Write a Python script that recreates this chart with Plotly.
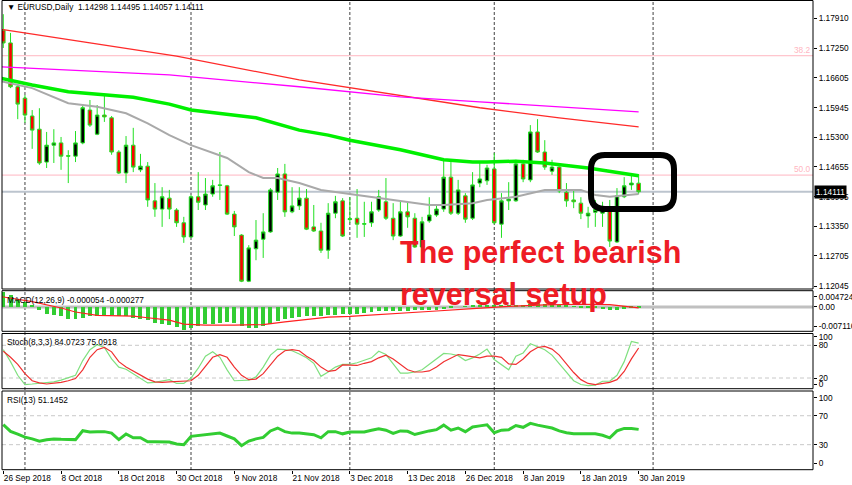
import plotly.graph_objects as go
import pandas as pd

# ---------------- data ----------------
holidays = ["2018-12-25", "2019-01-01"]
dates = [d for d in pd.bdate_range("2018-09-26", "2019-01-30") if d.strftime("%Y-%m-%d") not in holidays]
future_dates = list(pd.bdate_range("2019-01-31", "2019-02-08"))

opens = [1.1765, 1.1737, 1.1641, 1.1616, 1.1577, 1.1548, 1.1476, 1.1513, 1.1518, 1.1490,
         1.1489, 1.1518, 1.1590, 1.1537, 1.1579, 1.1573, 1.1498, 1.1452, 1.1513, 1.1459,
         1.1467, 1.1391, 1.1373, 1.1397, 1.1371, 1.1343, 1.1312, 1.1400, 1.1382, 1.1406,
         1.1426, 1.1424, 1.1362, 1.1316, 1.1215, 1.1286, 1.1307, 1.1323, 1.1410, 1.1450,
         1.1367, 1.1380, 1.1397, 1.1334, 1.1325, 1.1283, 1.1364, 1.1391, 1.1350, 1.1353,
         1.1340, 1.1343, 1.1371, 1.1389, 1.1353, 1.1314, 1.1367, 1.1353, 1.1290, 1.1347,
         1.1360, 1.1373, 1.1443, 1.1364, 1.1402, 1.1353, 1.1430, 1.1435, 1.1461, 1.1340,
         1.1391, 1.1391, 1.1472, 1.1437, 1.1542, 1.1498, 1.1456, 1.1465, 1.1410, 1.1393,
         1.1386, 1.1358, 1.1366, 1.1364, 1.1378, 1.1301, 1.1400, 1.1426, 1.14298]
highs = [1.1800, 1.1759, 1.1645, 1.1623, 1.1590, 1.1594, 1.1542, 1.1548, 1.1531, 1.1502,
         1.1544, 1.1603, 1.1612, 1.1601, 1.1621, 1.1577, 1.1502, 1.1533, 1.1551, 1.1494,
         1.1476, 1.1430, 1.1421, 1.1415, 1.1375, 1.1356, 1.1404, 1.1454, 1.1441, 1.1437,
         1.1498, 1.1426, 1.1369, 1.1318, 1.1294, 1.1349, 1.1364, 1.1419, 1.1463, 1.1472,
         1.1421, 1.1421, 1.1417, 1.1382, 1.1343, 1.1386, 1.1402, 1.1397, 1.1399, 1.1417,
         1.1389, 1.1389, 1.1415, 1.1441, 1.1386, 1.1389, 1.1389, 1.1364, 1.1356, 1.1399,
         1.1382, 1.1481, 1.1476, 1.1437, 1.1408, 1.1454, 1.1474, 1.1470, 1.1496, 1.1408,
         1.1432, 1.1481, 1.1481, 1.1557, 1.1570, 1.1524, 1.1481, 1.1467, 1.1430, 1.1413,
         1.1399, 1.1378, 1.1393, 1.1389, 1.1393, 1.1419, 1.1443, 1.1446, 1.14495]
lows = [1.1726, 1.1638, 1.1570, 1.1562, 1.1505, 1.1470, 1.1463, 1.1474, 1.1459, 1.1430,
        1.1476, 1.1515, 1.1553, 1.1535, 1.1564, 1.1492, 1.1450, 1.1430, 1.1454, 1.1454,
        1.1378, 1.1356, 1.1334, 1.1351, 1.1334, 1.1299, 1.1310, 1.1371, 1.1371, 1.1400,
        1.1393, 1.1360, 1.1314, 1.1213, 1.1213, 1.1261, 1.1266, 1.1321, 1.1393, 1.1356,
        1.1364, 1.1371, 1.1327, 1.1323, 1.1277, 1.1264, 1.1353, 1.1312, 1.1343, 1.1310,
        1.1312, 1.1334, 1.1367, 1.1349, 1.1305, 1.1312, 1.1332, 1.1288, 1.1288, 1.1343,
        1.1356, 1.1367, 1.1360, 1.1360, 1.1343, 1.1349, 1.1421, 1.1426, 1.1340, 1.1310,
        1.1371, 1.1389, 1.1432, 1.1432, 1.1496, 1.1459, 1.1448, 1.1408, 1.1378, 1.1375,
        1.1351, 1.1332, 1.1334, 1.1334, 1.1290, 1.1299, 1.1397, 1.1415, 1.14057]
closes = [1.1737, 1.1641, 1.1603, 1.1579, 1.1546, 1.1474, 1.1513, 1.1518, 1.1489, 1.1489,
          1.1518, 1.1595, 1.1557, 1.1579, 1.1575, 1.1498, 1.1452, 1.1513, 1.1465, 1.1467,
          1.1393, 1.1373, 1.1400, 1.1373, 1.1343, 1.1312, 1.1400, 1.1388, 1.1406, 1.1424,
          1.1425, 1.1362, 1.1334, 1.1215, 1.1288, 1.1305, 1.1323, 1.1415, 1.1450, 1.1367,
          1.1380, 1.1397, 1.1329, 1.1325, 1.1283, 1.1364, 1.1389, 1.1314, 1.1352, 1.1340,
          1.1341, 1.1367, 1.1400, 1.1353, 1.1314, 1.1367, 1.1356, 1.1290, 1.1345, 1.1360,
          1.1373, 1.1443, 1.1364, 1.1415, 1.1351, 1.1426, 1.1439, 1.1463, 1.1343, 1.1391,
          1.1395, 1.1472, 1.1439, 1.1542, 1.1498, 1.1465, 1.1465, 1.1413, 1.1391, 1.1389,
          1.1364, 1.1364, 1.1372, 1.1378, 1.1303, 1.1402, 1.1424, 1.1430, 1.14111]

# moving averages (bar index, value)
ma_red_idx = [-1, 0, 12, 24, 41, 55, 66, 77, 88]
ma_red = [1.1768, 1.1766, 1.1737, 1.1708, 1.1656, 1.1621, 1.1595, 1.1573, 1.1553]
ma_mag_idx = [-1, 12, 23, 41, 55, 66, 77, 88]
ma_mag = [1.1685, 1.1676, 1.1667, 1.1641, 1.1619, 1.1608, 1.1597, 1.1586]
ma_green_idx = [-1, 4, 9, 13, 18, 23, 26, 35, 41, 45, 48, 55, 61, 65, 67, 71, 75, 81, 88]
ma_green = [1.1662, 1.1645, 1.1630, 1.1625, 1.1618, 1.1603, 1.1590, 1.1573, 1.1546, 1.1535,
            1.1524, 1.1503, 1.1481, 1.1476, 1.1476, 1.1478, 1.1474, 1.1463, 1.1446]
ma_gray_idx = [-1, 0, 4, 9, 13, 17, 20, 23, 26, 31, 34, 36, 38, 41, 44, 48, 51, 55, 59, 61,
               65, 67, 71, 75, 80, 82, 84, 88]
ma_gray = [1.1654, 1.1652, 1.1638, 1.1605, 1.1597, 1.1583, 1.1561, 1.1535, 1.1513, 1.1485,
           1.1454, 1.1441, 1.1441, 1.1430, 1.1415, 1.1406, 1.1400, 1.1391, 1.1382, 1.1382,
           1.1386, 1.1393, 1.1400, 1.1415, 1.1415, 1.1404, 1.1400, 1.1406]

fib_levels = {"38.2": 1.17090, "50.0": 1.14475}
price_ticks = [1.17910, 1.17250, 1.16605, 1.15945, 1.15300, 1.14655, 1.13995, 1.13350, 1.12705, 1.12045]

macd_hist = [0.0044, 0.0035, 0.0025, 0.0015, 0.0005, -0.0010, -0.0020, -0.0025, -0.0028, -0.0035,
             -0.0035, -0.0032, -0.0028, -0.0028, -0.0025, -0.0025, -0.0028, -0.0028, -0.0032, -0.0035,
             -0.0039, -0.0047, -0.0049, -0.0054, -0.0059, -0.0067, -0.0061, -0.0057, -0.0051, -0.0049,
             -0.0047, -0.0044, -0.0047, -0.0057, -0.0061, -0.0061, -0.0057, -0.0049, -0.0041, -0.0037,
             -0.0033, -0.0030, -0.0028, -0.0026, -0.0026, -0.0025, -0.0025, -0.0022, -0.0020, -0.0020,
             -0.0018, -0.0015, -0.0012, -0.0012, -0.0012, -0.0012, -0.0012, -0.0010, -0.0010, -0.0010,
             -0.0008, -0.0006, -0.0003, 0.0000, 0.0001, 0.0003, 0.0004, 0.0006, 0.0005, 0.0004,
             0.0004, 0.0006, 0.0007, 0.0010, 0.0011, 0.0010, 0.0009, 0.0006, 0.0004, 0.0001,
             -0.0001, -0.0003, -0.0004, -0.0006, -0.0010, -0.0009, -0.0005, -0.0002, -0.000054]
macd_sig_idx = [-1, 0, 4, 8, 10, 13, 18, 20, 23, 25, 28, 32, 36, 39, 41, 43, 45, 48, 52, 57,
                60, 65, 70, 75, 80, 84, 86, 88]
macd_sig = [0.0033, 0.0030, 0.0016, -0.0003, -0.0015, -0.0025, -0.0027, -0.0032, -0.0039, -0.0051,
            -0.0054, -0.0054, -0.0052, -0.0044, -0.0039, -0.0035, -0.0030, -0.0028, -0.0022, -0.0015,
            -0.0012, -0.0005, 0.0002, 0.0006, 0.0008, 0.0007, 0.0003, -0.000277]

stoch_k = [72, 50, 25, 8, 9, 10, 11, 13, 16, 20,
           25, 52, 72, 81, 76, 55, 40, 36, 28, 20,
           11, 12, 15, 17, 10, 10, 20, 38, 60, 68,
           58, 35, 15, 15, 16, 22, 40, 62, 73, 72,
           70, 64, 57, 47, 23, 31, 40, 45, 45, 48,
           52, 57, 69, 63, 46, 29, 29, 31, 35, 45,
           55, 65, 64, 61, 52, 57, 64, 73, 54, 44,
           35, 60, 66, 83, 78, 72, 62, 47, 30, 15,
           8, 6, 7, 14, 14, 25, 50, 87, 84.0723]
stoch_d = [69, 58, 45, 28, 15, 11, 9, 10, 12, 15,
           19, 35, 58, 72, 76, 68, 50, 40, 33, 25,
           18, 13, 12, 13, 14, 14, 15, 25, 42, 58,
           63, 58, 40, 25, 17, 18, 28, 44, 60, 70,
           72, 70, 60, 52, 40, 32, 34, 44, 44, 43,
           47, 50, 57, 62, 55, 45, 35, 31, 31, 33,
           40, 50, 57, 63, 61, 59, 57, 60, 60, 58,
           46, 45, 55, 68, 76, 78, 73, 62, 46, 30,
           17, 10, 8, 10, 12, 17, 32, 55, 75.0918]
rsi = [57.6, 48.4, 44.5, 40.5, 38, 34.8, 36.9, 38, 37.5, 36.9,
       37, 49.3, 47.5, 48, 48, 46, 37, 44.7, 39.5, 39.5,
       34, 34, 34, 33.7, 31, 30, 41.5, 42.4, 43.5, 45.2,
       46, 42, 38, 28.6, 35, 38, 40, 49, 53, 48,
       46, 46, 44.7, 43.8, 39.5, 48, 48, 45, 47.5, 47.5,
       47.5, 50, 52, 50, 45.5, 49, 48.5, 44, 47, 49,
       50.7, 57, 50, 53, 48, 54.5, 56, 57.5, 46.5, 50,
       50.7, 56.5, 54, 59.5, 57, 55, 53, 49, 46.5, 45.2,
       45.2, 45.2, 45.2, 43, 39.5, 49, 52.5, 52.5, 51.1452]

# ---------------- layout helpers ----------------
W, H = 852, 485
ML, MR, MT, MB = 2, 39, 0, 15
PW, PH = W - ML - MR, H - MT - MB


def px_x(px):
    return (px - ML) / PW


def px_y(py):
    return (PH - py) / PH


FONT = "Liberation Sans, Arial, DejaVu Sans, sans-serif"
FS = 8.3
GREEN_WICK = "#22E022"

xs = list(range(len(dates)))
all_dates = dates + future_dates

fig = go.Figure()

fig.add_trace(go.Candlestick(
    x=xs, open=opens, high=highs, low=lows, close=closes,
    increasing=dict(line=dict(color=GREEN_WICK, width=1), fillcolor="#000000"),
    decreasing=dict(line=dict(color=GREEN_WICK, width=1), fillcolor="#FF0000"),
    whiskerwidth=0, xaxis="x", yaxis="y", showlegend=False, hoverinfo="skip"))

fig.add_trace(go.Scatter(x=ma_red_idx, y=ma_red, mode="lines", line=dict(color="#FF2A2A", width=1.3),
                         xaxis="x", yaxis="y", showlegend=False, hoverinfo="skip"))
fig.add_trace(go.Scatter(x=ma_mag_idx, y=ma_mag, mode="lines", line=dict(color="#FF00FF", width=1.3),
                         xaxis="x", yaxis="y", showlegend=False, hoverinfo="skip"))
fig.add_trace(go.Scatter(x=ma_gray_idx, y=ma_gray, mode="lines", line=dict(color="#A9A9A9", width=2),
                         xaxis="x", yaxis="y", showlegend=False, hoverinfo="skip"))
fig.add_trace(go.Scatter(x=ma_green_idx, y=ma_green, mode="lines", line=dict(color="#00F000", width=3.5),
                         xaxis="x", yaxis="y", showlegend=False, hoverinfo="skip"))

# MACD
fig.add_trace(go.Bar(x=xs, y=macd_hist, width=0.55, marker=dict(color="#32CD32", line=dict(width=0)),
                     xaxis="x2", yaxis="y2", showlegend=False, hoverinfo="skip"))
fig.add_trace(go.Scatter(x=macd_sig_idx, y=macd_sig, mode="lines", line=dict(color="#FF2020", width=1.2),
                         xaxis="x2", yaxis="y2", showlegend=False, hoverinfo="skip"))

# Stochastic
fig.add_trace(go.Scatter(x=xs, y=stoch_k, mode="lines", line=dict(color="#7FE07F", width=1.2),
                         xaxis="x3", yaxis="y3", showlegend=False, hoverinfo="skip"))
fig.add_trace(go.Scatter(x=xs, y=stoch_d, mode="lines", line=dict(color="#F03030", width=1.2),
                         xaxis="x3", yaxis="y3", showlegend=False, hoverinfo="skip"))

# RSI
fig.add_trace(go.Scatter(x=xs, y=rsi, mode="lines", line=dict(color="#32CD32", width=3),
                         xaxis="x4", yaxis="y4", showlegend=False, hoverinfo="skip"))

# ---------------- axes ----------------
x_range = [-0.18, 112.15]
tick_idx = list(range(0, len(dates), 8))
tick_txt = [f"{dates[i].day} {dates[i].strftime('%b %Y')}" for i in tick_idx]

common_x = dict(range=x_range, showgrid=False, zeroline=False, showline=False, fixedrange=True,
                automargin=False)
fig.update_layout(
    xaxis=dict(**common_x, anchor="y", showticklabels=False, ticks="", rangeslider=dict(visible=False)),
    xaxis2=dict(**common_x, anchor="y2", matches="x", showticklabels=False, ticks=""),
    xaxis3=dict(**common_x, anchor="y3", matches="x", showticklabels=False, ticks=""),
    xaxis4=dict(**common_x, anchor="free", position=0, matches="x", tickvals=tick_idx, ticktext=tick_txt,
                ticks="outside", ticklen=3, tickcolor="#000", ticklabelposition="outside right",
                tickangle=0, tickfont=dict(family=FONT, size=FS, color="#000")),
)

common_y = dict(side="right", showgrid=False, zeroline=False, showline=False, ticks="outside",
                ticklen=3, tickcolor="#000", tickfont=dict(family=FONT, size=FS, color="#000"),
                fixedrange=True, automargin=False)
fig.update_layout(
    yaxis=dict(**common_y, anchor="x", domain=[px_y(289), 1.0], range=[1.119792, 1.183109],
               tickvals=price_ticks, ticktext=[f"{v:.5f}" for v in price_ticks]),
    yaxis2=dict(**common_y, anchor="x2", domain=[px_y(331), px_y(291)], range=[-0.007116, 0.004724],
                tickvals=[0.003037, 0.0, -0.005636], ticktext=["0.004724", "0.00", "-0.007116"]),
    yaxis3=dict(**common_y, anchor="x3", domain=[px_y(388.9), px_y(334.4)], range=[0, 100],
                tickvals=[95.8, 80, 20, 9], ticktext=["100", "80", "20", "0"]),
    yaxis4=dict(**common_y, anchor="x4", domain=[px_y(466.4), px_y(394)], range=[0, 100],
                tickvals=[95, 70, 30, 4], ticktext=["100", "70", "30", "0"]),
)

# ---------------- shapes ----------------
shapes = []
# month separators
for i in range(1, len(all_dates)):
    if all_dates[i].month != all_dates[i - 1].month:
        shapes.append(dict(type="line", xref="x", yref="paper", x0=i, x1=i, y0=0, y1=1,
                           line=dict(color="#404040", width=1, dash="3px,2px"), layer="below"))
# fib levels
for lbl, lv in fib_levels.items():
    shapes.append(dict(type="line", xref="paper", yref="y", x0=0, x1=1, y0=lv, y1=lv,
                       line=dict(color="#FFB6C1", width=1), layer="below"))
# bid line
shapes.append(dict(type="line", xref="paper", yref="y", x0=0, x1=1, y0=closes[-1], y1=closes[-1],
                   line=dict(color="#BCC4CE", width=2), layer="below"))
# MACD zero line
shapes.append(dict(type="line", xref="paper", yref="y2", x0=0, x1=1, y0=0, y1=0,
                   line=dict(color="#C0C0C0", width=3), layer="below"))
# dashed levels
for yref, lv in [("y3", 80), ("y3", 20), ("y4", 70), ("y4", 30)]:
    shapes.append(dict(type="line", xref="paper", yref=yref, x0=0, x1=1, y0=lv, y1=lv,
                       line=dict(color="#C8C8C8", width=1, dash="4px,3px"), layer="below"))
# panel borders
for top, bot in [(0.5, 289), (290.7, 331.3), (333.5, 388.7), (391, 469.7)]:
    shapes.append(dict(type="rect", xref="paper", yref="paper", x0=px_x(2), x1=px_x(813),
                       y0=px_y(bot), y1=px_y(top), line=dict(color="#000", width=1),
                       fillcolor="rgba(0,0,0,0)", layer="above"))


# rounded highlight box
def rounded_path(x0, y0, x1, y1, r):
    pts = lambda x, y: f"{px_x(x):.5f},{px_y(y):.5f}"
    return (f"M {pts(x0 + r, y0)} L {pts(x1 - r, y0)} Q {pts(x1, y0)} {pts(x1, y0 + r)} "
            f"L {pts(x1, y1 - r)} Q {pts(x1, y1)} {pts(x1 - r, y1)} L {pts(x0 + r, y1)} "
            f"Q {pts(x0, y1)} {pts(x0, y1 - r)} L {pts(x0, y0 + r)} Q {pts(x0, y0)} {pts(x0 + r, y0)} Z")


shapes.append(dict(type="path", xref="paper", yref="paper", path=rounded_path(591, 155, 674, 209, 14),
                   line=dict(color="#000", width=6), fillcolor="rgba(0,0,0,0)", layer="above"))

# ---------------- annotations ----------------
ann = []
hdr = f"▼ EURUSD,Daily  {opens[-1]:.5f} {highs[-1]:.5f} {lows[-1]:.5f} {closes[-1]:.5f}"
ann.append(dict(text=hdr, xref="paper", yref="paper", x=px_x(5), y=px_y(7.5), xanchor="left", yanchor="middle",
                showarrow=False, font=dict(family=FONT, size=FS, color="#000")))
ann.append(dict(text=f"MACD(12,26,9) {macd_hist[-1]:.6f} {macd_sig[-1]:.6f}", xref="paper", yref="paper",
                x=px_x(5), y=px_y(300), xanchor="left", yanchor="middle", showarrow=False,
                font=dict(family=FONT, size=FS, color="#000")))
ann.append(dict(text=f"Stoch(8,3,3) {stoch_k[-1]:.4f} {stoch_d[-1]:.4f}", xref="paper", yref="paper",
                x=px_x(5), y=px_y(342), xanchor="left", yanchor="middle", showarrow=False,
                font=dict(family=FONT, size=FS, color="#000")))
ann.append(dict(text=f"RSI(13) {rsi[-1]:.4f}", xref="paper", yref="paper",
                x=px_x(5), y=px_y(399.5), xanchor="left", yanchor="middle", showarrow=False,
                font=dict(family=FONT, size=FS, color="#000")))
for lbl, lv in fib_levels.items():
    ann.append(dict(text=lbl, xref="paper", yref="y", x=px_x(812), y=lv, xanchor="right", yanchor="bottom",
                    showarrow=False, font=dict(family=FONT, size=FS, color="#FFB6C1"), borderpad=0))
ann.append(dict(text=f"{closes[-1]:.5f}", xref="paper", yref="y", x=px_x(814), y=closes[-1], xanchor="left",
                yanchor="middle", showarrow=False, bgcolor="#000", borderpad=1,
                font=dict(family=FONT, size=FS, color="#FFF")))
RED = "#EE1C25"
ann.append(dict(text="The perfect bearish", xref="paper", yref="paper", x=px_x(398), y=px_y(253),
                xanchor="left", yanchor="middle", showarrow=False,
                font=dict(family=FONT, size=30.5, color=RED, weight="bold")))
ann.append(dict(text="reversal setup", xref="paper", yref="paper", x=px_x(398), y=px_y(294.5),
                xanchor="left", yanchor="middle", showarrow=False,
                font=dict(family=FONT, size=30.5, color=RED, weight="bold")))

fig.update_layout(
    width=W, height=H, autosize=False,
    margin=dict(l=ML, r=MR, t=MT, b=MB, pad=0, autoexpand=False),
    paper_bgcolor="#FFFFFF", plot_bgcolor="#FFFFFF",
    showlegend=False, shapes=shapes, annotations=ann,
    font=dict(family=FONT, size=FS, color="#000"),
    bargap=0, hovermode=False,
)

fig.write_html("out.html", config={"displayModeBar": False},
               post_script="document.body.style.margin='0';document.body.style.padding='0';")
